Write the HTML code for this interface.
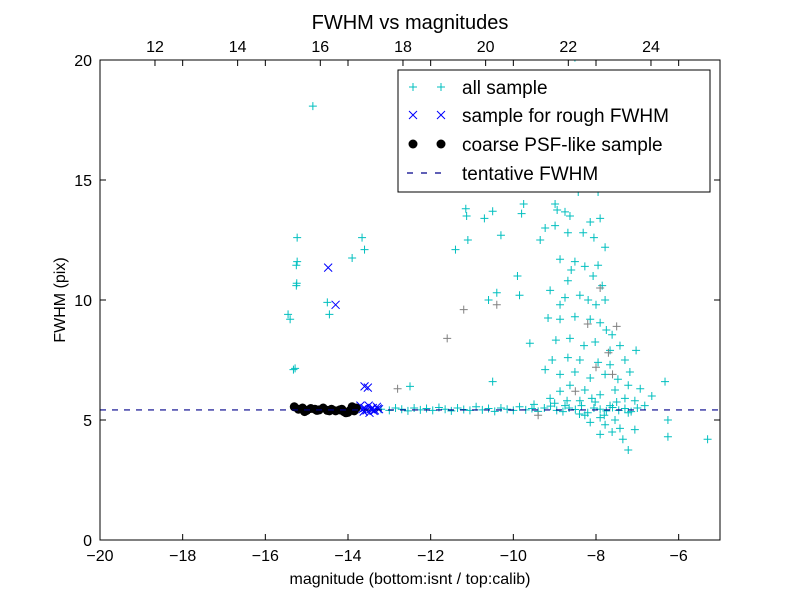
<!DOCTYPE html>
<html><head><meta charset="utf-8"><style>
body{margin:0;background:#fff;font-family:"Liberation Sans","DejaVu Sans",sans-serif}
svg text{font-family:"Liberation Sans","DejaVu Sans",sans-serif}
</style></head><body>
<svg id="chart" width="800" height="600" xmlns="http://www.w3.org/2000/svg">
<rect width="800" height="600" fill="#fff"/>
<g id="plot"></g>
<g id="axes"></g>
<text x="410" y="29" font-size="20" text-anchor="middle">FWHM vs magnitudes</text>
<text x="410" y="584" font-size="16" text-anchor="middle">magnitude (bottom:isnt / top:calib)</text>
<text x="65" y="300" font-size="16" text-anchor="middle" transform="rotate(-90 65 300)">FWHM (pix)</text>
<g id="legend"></g>
</svg>
<script>
const xTicks=[-20,-18,-16,-14,-12,-10,-8,-6];
const yTicks=[0,5,10,15,20];
const topTicks=[12,14,16,18,20,22,24];
const topOffset=30.67;
const tentativeFwhm=5.42;
const allMag=[-14.85,-15.23,-15.23,-15.25,-15.24,-15.25,-15.45,-15.4,-15.32,-15.28,-14.5,-14.45,-13.66,-13.6,-13.9,-11.15,-11.13,-11.4,-11.1,-10.5,-10.7,-10.3,-9.8,-9.75,-9.9,-9.85,-10.4,-10.6,-9.6,-10.5,-12.5,
-8.51,-8.27,-8.63,-8.39,-8.8,-8.68,-8.43,-7.95,-8.99,-8.94,-8.75,-8.63,-8.14,-7.9,-9.23,-8.99,-8.68,-8.31,-8.05,-7.78,-9.35,-8.87,-8.51,-8.6,-8.68,-8.27,-7.95,-8.07,-7.85,-9.11,-8.87,-8.75,-8.39,-8.19,-8.0,-7.78,-9.16,-8.87,-8.51,-8.14,-7.9,-7.75,-7.61,-8.97,-8.63,-8.29,-8.02,-7.66,-7.42,-9.06,-8.68,-8.39,-7.95,-7.66,-7.3,-7.03,-9.23,-8.87,-8.51,-8.14,-7.78,-7.47,-7.18,-8.63,-8.27,-7.9,-7.54,-7.22,-6.93,-8.87,-9.11,-8.39,-8.02,-7.66,-7.3,-7.06,-8.75,-8.27,-7.9,-7.54,-7.22,-8.14,-7.78,-7.42,-7.06,-7.9,-7.35,-7.22,-7.61,-6.33,-6.26,-6.26,-5.3,-6.65,-6.82,
-13.2,-13.0,-12.85,-12.7,-12.55,-12.4,-12.25,-12.1,-11.95,-11.8,-11.65,-11.5,-11.35,-11.2,-11.05,-10.9,-10.75,-10.6,-10.45,-10.3,-10.15,-10.0,-9.85,-9.7,-9.55,-9.4,-9.25,-9.1,-8.95,-8.8,-8.65,-8.5,-8.35,-8.2,-8.05,-7.9,-7.75,-7.6,-7.45,-7.3,-7.15,-7.0,-9.5,-9.0,-8.7,-8.4,-8.1,-7.8,-7.5];
const allFwhm=[18.08,12.6,11.6,11.45,10.7,10.6,9.4,9.2,7.1,7.15,9.9,9.4,12.6,12.1,11.75,13.8,13.5,12.1,12.5,13.7,13.4,12.7,13.6,14.0,11.0,10.2,10.3,10.0,8.2,6.6,6.4,
20.1,19.3,17.2,16.25,15.1,14.75,14.5,14.5,14.0,13.75,13.67,13.5,13.25,13.4,13.0,13.1,12.8,12.8,12.6,12.2,12.5,11.7,11.6,11.25,10.8,11.4,11.45,11.0,10.6,10.4,9.8,10.1,10.2,10.0,9.8,10.0,9.25,9.2,9.3,9.2,9.05,8.75,8.55,8.33,8.4,8.1,8.25,7.9,8.1,7.5,7.6,7.5,7.4,7.3,7.5,7.9,7.1,6.9,7.0,6.75,6.9,6.7,7.0,6.45,6.25,6.05,6.25,6.45,6.3,6.2,5.9,5.8,5.75,5.6,5.9,5.8,5.6,5.2,5.1,5.0,5.3,4.9,4.8,4.65,4.6,4.4,4.2,3.75,4.5,6.6,5.0,4.3,4.2,6.0,5.6,
5.45,5.4,5.5,5.45,5.38,5.5,5.42,5.48,5.4,5.52,5.45,5.38,5.5,5.44,5.4,5.55,5.42,5.48,5.36,5.5,5.45,5.4,5.55,5.42,5.48,5.36,5.5,5.58,5.4,5.35,5.5,5.44,5.6,5.3,5.5,5.45,5.38,5.52,5.4,5.48,5.35,5.5,5.65,5.7,5.8,5.25,5.9,5.2,5.75];
const grayMag=[-11.2,-11.6,-10.4,-8.2,-7.7,-7.5,-8.5,-7.9,-12.8,-9.4,-8.0,-7.6];
const grayFwhm=[9.6,8.4,9.8,9.0,7.8,8.9,6.2,10.5,6.3,5.2,7.2,6.9];
const roughMag=[-14.48,-14.3,-13.6,-13.52,-13.7,-13.65,-13.6,-13.55,-13.5,-13.45,-13.4,-13.35,-13.3,-13.25,-13.62,-13.48,-13.38,-13.28];
const roughFwhm=[11.35,9.8,6.4,6.35,5.6,5.45,5.5,5.4,5.6,5.45,5.5,5.4,5.55,5.45,5.35,5.3,5.38,5.48];
const psfMag=[-15.3,-15.2,-15.1,-15.0,-14.9,-14.8,-14.7,-14.6,-14.5,-14.4,-14.3,-14.2,-14.1,-14.0,-13.95,-13.9,-13.85,-13.8,-15.05,-14.75,-14.45,-14.15,-14.05,-13.9];
const psfFwhm=[5.55,5.45,5.5,5.4,5.48,5.45,5.42,5.5,5.4,5.45,5.38,5.42,5.35,5.32,5.4,5.45,5.38,5.5,5.35,5.4,5.38,5.45,5.3,5.55];

const L=100,R=720,T=60,B=540;
const xs=m=>L+(m+20)/15*(R-L);
const ys=f=>B-f/20*(B-T);
const NS='http://www.w3.org/2000/svg';
function mk(tag,attrs,parent){const e=document.createElementNS(NS,tag);for(const k in attrs)e.setAttribute(k,attrs[k]);parent.appendChild(e);return e;}
const plot=document.getElementById('plot'),axes=document.getElementById('axes'),leg=document.getElementById('legend');
function plus(x,y,c,p){const g=mk('path',{d:`M${x-4},${y}H${x+4}M${x},${y-4}V${y+4}`,stroke:c,'stroke-width':1,fill:'none'},p);return g;}
function cross(x,y,c,p){return mk('path',{d:`M${x-4},${y-4}L${x+4},${y+4}M${x-4},${y+4}L${x+4},${y-4}`,stroke:c,'stroke-width':1,fill:'none'},p);}
mk('clipPath',{id:'clip'},plot).appendChild(document.createElementNS(NS,'rect'));
const cr=plot.querySelector('clipPath rect');cr.setAttribute('x',L);cr.setAttribute('y',T);cr.setAttribute('width',R-L);cr.setAttribute('height',B-T);
const pg=mk('g',{'clip-path':'url(#clip)'},plot);
allMag.forEach((m,i)=>{const e=plus(xs(m),ys(allFwhm[i]),'#00bfbf',pg);

});
grayMag.forEach((m,i)=>{const e=plus(xs(m),ys(grayFwhm[i]),'#808080',pg);

});
roughMag.forEach((m,i)=>{const e=cross(xs(m),ys(roughFwhm[i]),'#0000ff',pg);

});
psfMag.forEach((m,i)=>{const e=mk('circle',{cx:xs(m),cy:ys(psfFwhm[i]),r:4.5,fill:'#000'},pg);

});
const dl=mk('line',{x1:L,x2:R,y1:ys(tentativeFwhm),y2:ys(tentativeFwhm),stroke:'#00008b','stroke-width':1.2,'stroke-dasharray':'6,6'},pg);


mk('rect',{x:L,y:T,width:R-L,height:B-T,fill:'none',stroke:'#000','stroke-width':1},axes);
xTicks.forEach(v=>{const x=xs(v);mk('path',{d:`M${x},${B}v-6M${x},${T}v6`,stroke:'#000'},axes);
const t=mk('text',{x:x,y:B+21,'font-size':16,'text-anchor':'middle'},axes);t.textContent=v<0?'\u2212'+(-v):v;

});
topTicks.forEach(v=>{const x=xs(v-topOffset);mk('path',{d:`M${x},${T}v6`,stroke:'#000'},axes);
const t=mk('text',{x:x,y:T-8,'font-size':16,'text-anchor':'middle'},axes);t.textContent=v;

});
yTicks.forEach(v=>{const y=ys(v);mk('path',{d:`M${L},${y}h6M${R},${y}h-6`,stroke:'#000'},axes);
const t=mk('text',{x:L-8,y:y+6,'font-size':16,'text-anchor':'end'},axes);t.textContent=v;

});
// legend
mk('rect',{x:398,y:70,width:312,height:122,fill:'#fff',stroke:'#000'},leg);
const labels=['all sample','sample for rough FWHM','coarse PSF-like sample','tentative FWHM'];
const ly=[87,115,144,173];
labels.forEach((s,i)=>{const y=ly[i];
if(i==0){plus(413,y,'#00bfbf',leg);plus(441,y,'#00bfbf',leg);}
if(i==1){cross(413,y,'#0000ff',leg);cross(441,y,'#0000ff',leg);}
if(i==2){mk('circle',{cx:413,cy:y,r:4.5,fill:'#000'},leg);mk('circle',{cx:441,cy:y,r:4.5,fill:'#000'},leg);}
if(i==3){mk('line',{x1:407,x2:447,y1:y,y2:y,stroke:'#00008b','stroke-width':1.2,'stroke-dasharray':'6,8'},leg);}
const t=mk('text',{x:462,y:y+7,'font-size':19},leg);t.textContent=s;

});
</script>
</body></html>
